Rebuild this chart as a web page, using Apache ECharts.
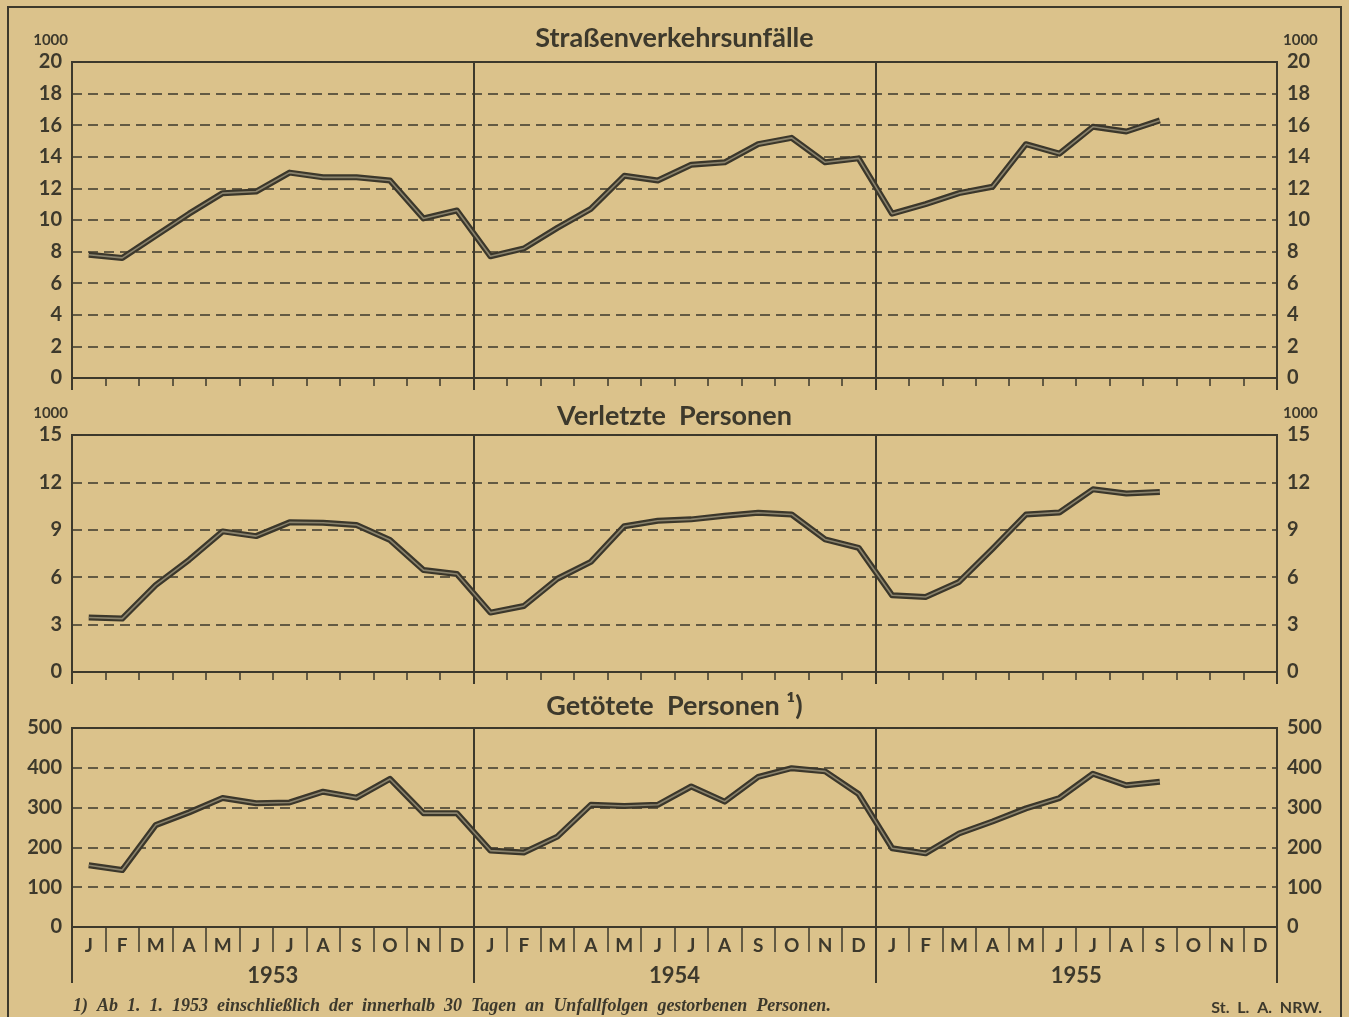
<!DOCTYPE html>
<html>
<head>
<meta charset="utf-8">
<title>Straßenverkehrsunfälle</title>
<script src="https://cdn.jsdelivr.net/npm/echarts@6/dist/echarts.min.js"></script>
<style>
  html, body { margin: 0; padding: 0; background: #dbc28b; }
  #frame {
    position: absolute; left: 7px; top: 6px; width: 1335px; height: 1100px;
    border: 2px solid #3d392c; box-sizing: border-box;
  }
  #chart { position: absolute; left: 0; top: 0; width: 1349px; height: 1017px; }
</style>
</head>
<body>
<div id="frame"></div>
<div id="chart"></div>
<script>
// monatswerte jan 1953 - dez 1955 (okt-dez 1955 noch offen)
const monate = ['J','F','M','A','M','J','J','A','S','O','N','D',
                'J','F','M','A','M','J','J','A','S','O','N','D',
                'J','F','M','A','M','J','J','A','S','O','N','D']
const jahre = ['1953', '1954', '1955']

// Straßenverkehrsunfälle, in 1000
const unfaelle = [7.8, 7.6, 9.0, 10.4, 11.7, 11.8, 13.0, 12.7, 12.7, 12.5, 10.1, 10.6,
                  7.7, 8.2, 9.5, 10.7, 12.8, 12.5, 13.5, 13.65, 14.8, 15.2, 13.65, 13.9,
                  10.4, 11.0, 11.7, 12.1, 14.8, 14.2, 15.9, 15.6, 16.3, null, null, null]

// Verletzte Personen, in 1000
const verletzte = [3.45, 3.38, 5.5, 7.1, 8.9, 8.6, 9.47, 9.45, 9.3, 8.35, 6.45, 6.2,
                   3.76, 4.18, 5.9, 6.97, 9.23, 9.57, 9.66, 9.89, 10.08, 9.97, 8.39, 7.86,
                   4.86, 4.75, 5.7, 7.8, 9.97, 10.1, 11.56, 11.3, 11.4, null, null, null]

// Getötete Personen
const getoetete = [155, 143, 256, 288, 324, 311, 313, 340, 325, 372, 286, 286,
                   192, 187, 227, 307, 304, 307, 353, 315, 377, 399, 391, 334,
                   198, 185, 235, 265, 298, 324, 385, 356, 365, null, null, null]

const ink = '#3d392c'
const font = 'Lato'

let chart = echarts.init(document.getElementById('chart'))

// drei felder untereinander
const felder = [
  { top: 62, height: 316, max: 20, step: 2, unit: '1000', data: unfaelle, tick: 8, yearTick: 12, labels: false },
  { top: 435, height: 237, max: 15, step: 3, unit: '1000', data: verletzte, tick: 8, yearTick: 12, labels: false },
  { top: 728, height: 199, max: 500, step: 100, unit: '', data: getoetete, tick: 25, yearTick: 56, labels: true },
]

let grid = [], xAxis = [], yAxis = [], series = []

felder.forEach((f, i) => {
  grid.push({
    left: 72, width: 1205, top: f.top, height: f.height,
    show: true, borderColor: ink, borderWidth: 2, backgroundColor: 'transparent',
    outerBoundsMode: 'none', containLabel: false,
  })
  // monate
  xAxis.push({
    type: 'category', gridIndex: i, data: monate, boundaryGap: true,
    axisLine: { show: true, lineStyle: { color: ink, width: 2 } },
    axisTick: { show: true, interval: 0, length: f.tick, lineStyle: { color: ink, width: 1.5 } },
    axisLabel: { show: f.labels, interval: 0, margin: 9, color: ink, fontSize: 19, fontWeight: 'bold', fontFamily: font },
    splitLine: { show: false },
  })
  // jahre
  xAxis.push({
    type: 'category', gridIndex: i, data: jahre, boundaryGap: true, position: 'bottom',
    axisLine: { show: false },
    axisTick: { show: true, interval: 0, length: f.yearTick, lineStyle: { color: ink, width: 2 } },
    axisLabel: { show: f.labels, margin: 38, color: ink, fontSize: 22, fontWeight: 'bold', fontFamily: font },
    splitLine: { show: true, interval: 0, lineStyle: { color: ink, width: 2 } },
  })
  const yBase = {
    type: 'value', gridIndex: i, min: 0, max: f.max, interval: f.step,
    axisLine: { show: false }, axisTick: { show: false },
    axisLabel: { margin: 10, color: ink, fontSize: 20, fontWeight: 'bold', fontFamily: font },
    name: f.unit, nameLocation: 'end', nameGap: 14,
  }
  yAxis.push(Object.assign({}, yBase, {
    position: 'left',
    nameTextStyle: { color: ink, fontSize: 15, fontWeight: 'bold', fontFamily: font, align: 'right', padding: [0, 4, 0, 0] },
    splitLine: { show: true, lineStyle: { color: ink, width: 1.5, type: [10, 6] } },
  }))
  yAxis.push(Object.assign({}, yBase, {
    position: 'right',
    nameTextStyle: { color: ink, fontSize: 15, fontWeight: 'bold', fontFamily: font, align: 'left', padding: [0, 0, 0, 6] },
    splitLine: { show: false },
  }))
  // doppellinie: dunkler rand, heller kern
  series.push({
    type: 'line', xAxisIndex: i * 2, yAxisIndex: i * 2, data: f.data,
    symbol: 'none', lineStyle: { color: '#3b372b', width: 6, join: 'round' }, z: 3,
  })
  series.push({
    type: 'line', xAxisIndex: i * 2, yAxisIndex: i * 2, data: f.data,
    symbol: 'none', lineStyle: { color: '#8a836d', width: 1.6 }, z: 4,
  })
})

const titelStil = { color: ink, fontSize: 27, fontWeight: 'bold', fontFamily: font }

chart.setOption({
  animation: false,
  title: [
    { text: 'Straßenverkehrsunfälle', left: 'center', top: 20, textStyle: titelStil },
    { text: 'Verletzte  Personen', left: 'center', top: 398, textStyle: titelStil },
    { text: 'Getötete  Personen ¹)', left: 'center', top: 688, textStyle: titelStil },
    { text: '1)  Ab  1.  1.  1953  einschließlich  der  innerhalb  30  Tagen  an  Unfallfolgen  gestorbenen  Personen.',
      left: 68, top: 992,
      textStyle: { color: ink, fontSize: 18, fontWeight: 'bold', fontStyle: 'italic', fontFamily: 'Liberation Serif' } },
    { text: 'St.  L.  A.  NRW.', right: 22, top: 995,
      textStyle: { color: ink, fontSize: 16, fontWeight: 'bold', fontFamily: font } },
  ],
  grid: grid,
  xAxis: xAxis,
  yAxis: yAxis,
  series: series,
})
</script>
</body>
</html>
